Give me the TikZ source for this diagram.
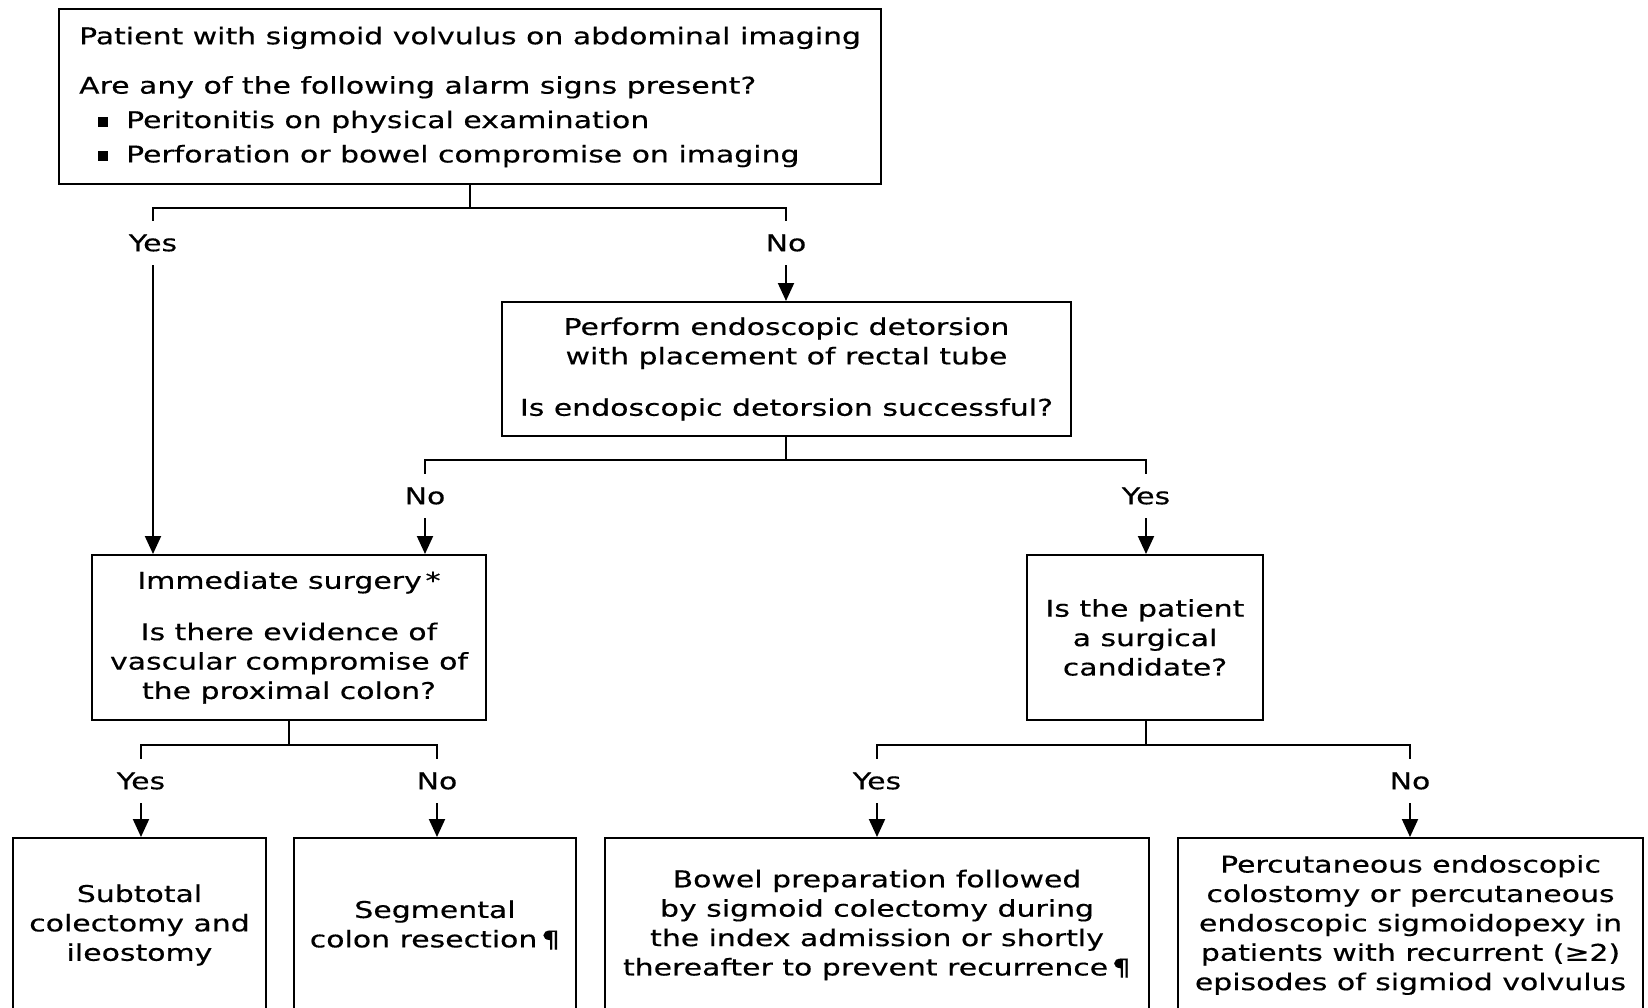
\documentclass[tikz,border=0pt]{standalone}
\usepackage{fontspec}
\setmainfont{DejaVu Sans}[FakeStretch=1.3,FakeBold=0.4]
\usetikzlibrary{arrows.meta}
\begin{document}
\begin{tikzpicture}[x=1pt,y=-1pt,
  every node/.style={font=\fontsize{23}{29.4}\selectfont, text=black},
  box/.style={draw=black, line width=2pt, align=center, inner sep=0pt},
  lbl/.style={inner sep=0pt, minimum height=44pt},
  line/.style={draw=black, line width=2pt},
  arr/.style={line, -{Triangle[length=18pt,width=16pt]}}]
\useasboundingbox (0,0) rectangle (1648,1008);
\clip (0,0) rectangle (1648,1008);
% boxes
\node[box, align=left, minimum width=822pt, minimum height=175pt] (top) at (470,97)
  {Patient with sigmoid volvulus on abdominal imaging\\[20pt]
   Are any of the following alarm signs present?\\[5pt]
   \hspace*{19pt}\rule[1pt]{10pt}{10pt}\hspace{18pt}Peritonitis on physical examination\\[5pt]
   \hspace*{19pt}\rule[1pt]{10pt}{10pt}\hspace{18pt}Perforation or bowel compromise on imaging};
\node[box, minimum width=569pt, minimum height=134pt] (endo) at (786.5,369)
  {Perform endoscopic detorsion\\with placement of rectal tube\\[22pt]Is endoscopic detorsion successful?};
\node[box, minimum width=394pt, minimum height=165pt] (imm) at (289,637.5)
  {Immediate surgery\,*\\[22pt]Is there evidence of\\vascular compromise of\\the proximal colon?};
\node[box, minimum width=236pt, minimum height=165pt] (cand) at (1145,637.5)
  {Is the patient\\a surgical\\candidate?};
\node[box, minimum width=253pt, minimum height=174pt] (b1) at (139.5,925)
  {Subtotal\\colectomy and\\ileostomy};
\node[box, minimum width=282pt, minimum height=174pt] (b2) at (435,925)
  {Segmental\\colon resection\,¶};
\node[box, minimum width=544pt, minimum height=174pt] (b3) at (877,925)
  {Bowel preparation followed\\by sigmoid colectomy during\\the index admission or shortly\\thereafter to prevent recurrence\,¶};
\node[box, minimum width=465pt, minimum height=174pt] (b4) at (1410.5,925)
  {Percutaneous endoscopic\\colostomy or percutaneous\\endoscopic sigmoidopexy in\\patients with recurrent (≥2)\\episodes of sigmiod volvulus};
% labels
\node[lbl] (yes1) at (153,243) {Yes};
\node[lbl] (no1) at (786,243) {No};
\node[lbl] (no2) at (425,496) {No};
\node[lbl] (yes2) at (1146,496) {Yes};
\node[lbl] (yes3) at (141,781) {Yes};
\node[lbl] (no3) at (437,781) {No};
\node[lbl] (yes4) at (877,781) {Yes};
\node[lbl] (no4) at (1410,781) {No};
% junctions
\coordinate (j1) at (470,208);
\coordinate (j2) at (786,460);
\coordinate (j3) at (289,745);
\coordinate (j4) at (1146,745);
% connectors
\draw[line] (top.south) -- (j1);
\draw[line] (yes1.north) |- (j1) -| (no1.north);
\draw[arr] (yes1.south) -- (imm.north -| yes1.south);
\draw[arr] (no1.south) -- (endo.north -| no1.south);
\draw[line] (endo.south -| j2) -- (j2);
\draw[line] (no2.north) |- (j2) -| (yes2.north);
\draw[arr] (no2.south) -- (imm.north -| no2.south);
\draw[arr] (yes2.south) -- (cand.north -| yes2.south);
\draw[line] (imm.south -| j3) -- (j3);
\draw[line] (yes3.north) |- (j3) -| (no3.north);
\draw[arr] (yes3.south) -- (b1.north -| yes3.south);
\draw[arr] (no3.south) -- (b2.north -| no3.south);
\draw[line] (cand.south -| j4) -- (j4);
\draw[line] (yes4.north) |- (j4) -| (no4.north);
\draw[arr] (yes4.south) -- (b3.north -| yes4.south);
\draw[arr] (no4.south) -- (b4.north -| no4.south);
\end{tikzpicture}
\end{document}
